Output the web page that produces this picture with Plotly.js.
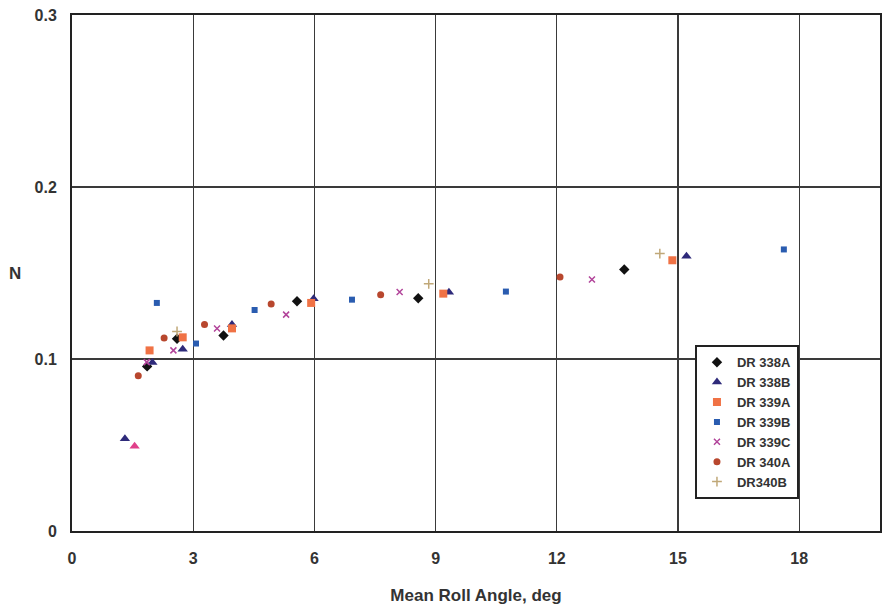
<!DOCTYPE html>
<html>
<head>
<meta charset="utf-8">
<script src="https://cdn.plot.ly/plotly-3.0.1.min.js"></script>
<style>html,body{margin:0;padding:0;background:#fff;}#chart{width:888px;height:615px;}</style>
</head>
<body>
<div id="chart"></div>
<script>
// Data (x = Mean Roll Angle, deg; y = N)
const seriesNames = ["DR 338A", "DR 338B", "DR 339A", "DR 339B", "DR 339C", "DR 340A", "DR340B"];

const dr338A_x = [1.86, 2.60, 3.75, 5.57, 8.57, 13.67];
const dr338A_y = [0.0957, 0.1118, 0.1137, 0.1336, 0.1353, 0.1520];

const dr338B_x = [1.31, 1.99, 2.74, 3.96, 5.98, 9.33, 15.21];
const dr338B_y = [0.0536, 0.0980, 0.1056, 0.1200, 0.1350, 0.1388, 0.1598];

const dr339A_x = [1.92, 2.74, 3.96, 5.92, 9.19, 14.86];
const dr339A_y = [0.1050, 0.1126, 0.1178, 0.1326, 0.1380, 0.1574];

const dr339B_x = [2.10, 3.07, 4.52, 6.93, 10.74, 17.62];
const dr339B_y = [0.1326, 0.1090, 0.1285, 0.1345, 0.1392, 0.1637];

const dr339C_x = [1.85, 2.51, 3.59, 5.30, 8.11, 12.87];
const dr339C_y = [0.0982, 0.1050, 0.1177, 0.1258, 0.1390, 0.1462];
// one pink triangular mark near the origin (drawn in the DR 339C colour)
const dr339C_extra_x = [1.55];
const dr339C_extra_y = [0.0493];

const dr340A_x = [1.64, 2.28, 3.28, 4.93, 7.64, 12.08];
const dr340A_y = [0.0903, 0.1122, 0.1200, 0.1320, 0.1373, 0.1477];

const dr340B_x = [2.60, 8.83, 14.55];
const dr340B_y = [0.1160, 0.1437, 0.1613];

const xTicks = [0, 3, 6, 9, 12, 15, 18];
const yTicks = [0, 0.1, 0.2, 0.3];
const yTickText = ["0", "0.1", "0.2", "0.3"];
const xTitle = "Mean Roll Angle, deg";
const yTitle = "N";

const fontFam = "Liberation Sans, Arial, sans-serif";

function tr(name, x, y, symbol, color, size, showlegend) {
  return {
    type: "scatter", mode: "markers", name: name, x: x, y: y,
    showlegend: showlegend !== false,
    marker: { symbol: symbol, color: color, size: size,
      line: { width: (symbol.indexOf("open") >= 0 ? 1.5 : 0), color: color } },
    hoverinfo: "x+y+name"
  };
}

const data = [
  tr(seriesNames[0], dr338A_x, dr338A_y, "diamond", "#111111", 8),
  tr(seriesNames[1], dr338B_x, dr338B_y, "triangle-up", "#2e2a7a", 9),
  tr(seriesNames[2], dr339A_x, dr339A_y, "square", "#f07245", 8),
  tr(seriesNames[3], dr339B_x, dr339B_y, "square", "#2a5cb0", 6),
  tr(seriesNames[4], dr339C_x, dr339C_y, "x-thin-open", "#b2449a", 6),
  tr(seriesNames[5], dr340A_x, dr340A_y, "circle", "#b8472e", 7),
  tr(seriesNames[6], dr340B_x, dr340B_y, "cross-thin-open", "#c0a878", 7),
  tr(seriesNames[4], dr339C_extra_x, dr339C_extra_y, "triangle-up", "#e0408a", 9, false)
];

const axisCommon = {
  showline: true, mirror: true, linecolor: "#222222", linewidth: 2,
  showgrid: true, gridcolor: "#3a3a3a", gridwidth: 1.1,
  zeroline: false,
  ticks: "outside", tickcolor: "rgba(0,0,0,0)",
  tickfont: { family: fontFam, size: 16, color: "#333333", weight: "bold" }
};

const layout = {
  width: 888, height: 615,
  paper_bgcolor: "#ffffff", plot_bgcolor: "#ffffff",
  margin: { l: 72, r: 8, t: 15, b: 84 },
  showlegend: true,
  xaxis: Object.assign({}, axisCommon, {
    range: [0, 20], tickmode: "array", tickvals: xTicks, ticklen: 12,
    title: { text: xTitle, standoff: 23,
      font: { family: fontFam, size: 17, color: "#333333", weight: "bold" } }
  }),
  yaxis: Object.assign({}, axisCommon, {
    range: [0, 0.3], tickmode: "array", tickvals: yTicks, ticktext: yTickText, ticklen: 10
  }),
  annotations: [{
    text: yTitle, xref: "paper", yref: "paper", x: -0.0705, y: 0.5,
    xanchor: "center", yanchor: "middle", showarrow: false,
    font: { family: fontFam, size: 17, color: "#333333", weight: "bold" }
  }],
  legend: {
    x: 0.771, y: 0.36, xanchor: "left", yanchor: "top",
    bgcolor: "#ffffff", bordercolor: "#222222", borderwidth: 2,
    font: { family: fontFam, size: 13, color: "#333333", weight: "bold" },
    tracegroupgap: 0, itemwidth: 30, entrywidth: 92, entrywidthmode: "pixels"
  }
};

Plotly.newPlot("chart", data, layout, { displayModeBar: false, staticPlot: true });
</script>
</body>
</html>
